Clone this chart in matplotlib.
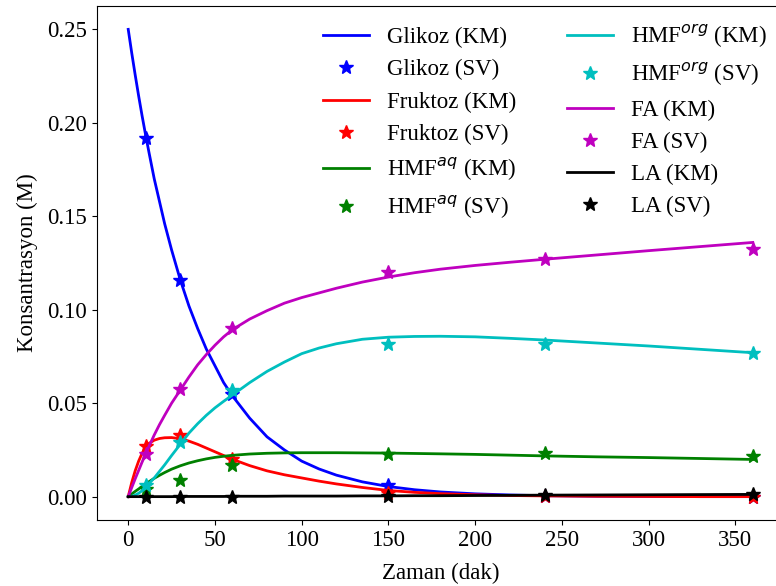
import matplotlib
matplotlib.use("Agg")
import matplotlib.pyplot as plt

plt.rcParams['font.family'] = ['Liberation Serif', 'DejaVu Serif']

# model (KM) curves
t_km = [0, 2, 4, 6, 8, 10, 12, 15, 18, 21, 25, 30, 35, 40, 45, 50, 55, 60, 70, 80, 90, 100,
        110, 120, 135, 150, 165, 180, 200, 220, 240, 270, 300, 330, 360]
glikoz_km = [0.250, 0.2375, 0.2257, 0.2144, 0.2037, 0.1936, 0.184, 0.170, 0.158, 0.146, 0.132, 0.116,
             0.102, 0.090, 0.079, 0.070, 0.061, 0.054, 0.042, 0.032, 0.025, 0.019, 0.0148, 0.0115,
             0.0079, 0.0054, 0.0037, 0.0025, 0.0015, 0.0009, 0.0005, 0.0002, 0.0001, 0.0, 0.0]
fruktoz_km = [0.0, 0.0075, 0.0138, 0.019, 0.0232, 0.0265, 0.0285, 0.0302, 0.0311, 0.0315, 0.0316, 0.031,
              0.0297, 0.028, 0.026, 0.024, 0.022, 0.020, 0.0166, 0.0138, 0.0117, 0.0100, 0.0083, 0.0068,
              0.0049, 0.0033, 0.0023, 0.0016, 0.0010, 0.0006, 0.0004, 0.0002, 0.0001, 0.0, 0.0]
hmf_aq_km = [0.0, 0.0014, 0.0028, 0.0041, 0.0055, 0.0068, 0.008, 0.0098, 0.0114, 0.0129, 0.0147, 0.0165,
             0.018, 0.0192, 0.0202, 0.021, 0.0216, 0.0221, 0.0228, 0.0232, 0.0234, 0.0235, 0.0235, 0.0235,
             0.0234, 0.0233, 0.0231, 0.0229, 0.0226, 0.0222, 0.0218, 0.0213, 0.0209, 0.0204, 0.0199]
hmf_org_km = [0.0, 0.0002, 0.0008, 0.0018, 0.0032, 0.005, 0.007, 0.010, 0.0135, 0.017, 0.022, 0.028,
              0.034, 0.039, 0.0435, 0.0475, 0.051, 0.0543, 0.061, 0.067, 0.072, 0.0765, 0.0795, 0.0818,
              0.0842, 0.0853, 0.0857, 0.0858, 0.0855, 0.0847, 0.0838, 0.0822, 0.0806, 0.0788, 0.0770]
fa_km = [0.0, 0.0048, 0.0095, 0.014, 0.0185, 0.0228, 0.027, 0.033, 0.0385, 0.0435, 0.050, 0.057,
         0.064, 0.0705, 0.076, 0.081, 0.0855, 0.0893, 0.095, 0.0995, 0.1035, 0.1065, 0.109, 0.1115,
         0.1148, 0.1175, 0.1198, 0.1217, 0.1237, 0.1254, 0.127, 0.1293, 0.1316, 0.1338, 0.136]
la_km = [0.0, 0.0, 0.0, 0.0, 0.0, 0.0, 0.0, 0.0, 0.0, 0.0, 0.0, 0.0001, 0.0001, 0.0001, 0.0001, 0.0001,
         0.0001, 0.0002, 0.0002, 0.0002, 0.0003, 0.0003, 0.0003, 0.0003, 0.0004, 0.0004, 0.0005, 0.0005,
         0.0006, 0.0007, 0.0008, 0.0009, 0.0010, 0.0011, 0.0012]

# experimental (SV) points
t_sv = [10, 30, 60, 150, 240, 360]
glikoz_sv = [0.192, 0.116, 0.055, 0.006, 0.0005, 0.0]
fruktoz_sv = [0.027, 0.033, 0.020, 0.002, 0.0005, 0.0]
hmf_aq_sv = [0.004, 0.009, 0.017, 0.023, 0.0234, 0.022]
hmf_org_sv = [0.006, 0.029, 0.057, 0.0815, 0.0815, 0.077]
fa_sv = [0.0227, 0.0575, 0.090, 0.120, 0.1274, 0.1327]
la_sv = [0.0, 0.0, 0.0, 0.0005, 0.0010, 0.0013]

series = [
    ('Glikoz', glikoz_km, glikoz_sv, 'b'),
    ('Fruktoz', fruktoz_km, fruktoz_sv, 'r'),
    ('HMF$^{aq}$', hmf_aq_km, hmf_aq_sv, 'g'),
    ('HMF$^{org}$', hmf_org_km, hmf_org_sv, 'c'),
    ('FA', fa_km, fa_sv, 'm'),
    ('LA', la_km, la_sv, 'k'),
]

fs = 16.5
fig = plt.figure(figsize=(7.76, 5.86), dpi=100)
ax = fig.add_axes([97 / 776, 66 / 586, 687 / 776, 514 / 586])

for name, km, sv, col in series:
    ax.plot(t_km, km, '-', color=col, lw=2, label=f'{name} (KM)')
    ax.plot(t_sv, sv, '*', color=col, ms=10, label=f'{name} (SV)')

ax.set_xlabel('Zaman (dak)', fontsize=fs, labelpad=8.5)
ax.set_ylabel('Konsantrasyon (M)', fontsize=fs, labelpad=7)
ax.tick_params(labelsize=fs)
ax.set_yticks([0.0, 0.05, 0.10, 0.15, 0.20, 0.25])
ax.set_yticklabels(['0.00', '0.05', '0.10', '0.15', '0.20', '0.25'])
ax.legend(ncol=2, fontsize=fs, frameon=False, loc='upper right',
          labelspacing=0.48, borderaxespad=0.35, columnspacing=2.2)

fig.savefig('out.png', dpi=100)
